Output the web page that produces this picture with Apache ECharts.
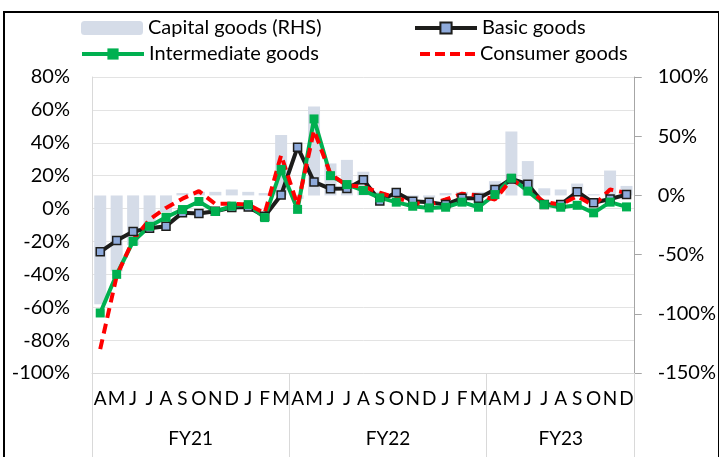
<!doctype html>
<html lang="en">
<head>
    <meta charset="UTF-8">
    <title>Production growth by use-based category</title>
    <script src="https://cdn.jsdelivr.net/npm/echarts@6/dist/echarts.min.js"></script>
    <style>
        body{ margin:0; background:#fff; }
        #main{ position:absolute; left:0; top:0; width:719px; height:457px; }
        #frame{ position:absolute; left:3px; top:11px; width:713px; height:470px; border:2px solid #000; pointer-events:none; }
    </style>
</head>
<body>
<div id="main"></div>
<div id="frame"></div>
<script>
    // months Apr FY21 .. Dec FY23
    var months = ['A','M','J','J','A','S','O','N','D','J','F','M',
                  'A','M','J','J','A','S','O','N','D','J','F','M',
                  'A','M','J','J','A','S','O','N','D'];
    var fyLabels = ['FY21', 'FY22', 'FY23'];
    var fyEdges = [0, 12, 24, 33];
    var fyCenters = [6, 18, 28.5];

    // y-o-y growth, %
    var capitalGoods = [-92,-64,-42,-25,-14,2,3,3,5,3,2,51,
                        -3,75,27,30,20,3,2,-2,-2,2,3,3,
                        12,54,29,6,5,10,1,21,8];
    var basicGoods = [-26.3,-19.5,-14,-12,-10.7,-2.5,-3,-1.6,0.6,1,-4.7,8.3,
                      37.3,16.2,12,12.2,17.5,4.6,9.8,4.5,3.8,2.4,6.3,6.2,
                      11.6,18,14.8,2.4,2.4,10.2,3.5,5.8,8.5];
    var intermediateGoods = [-63.5,-40,-20,-10.8,-5.3,-0.6,4.3,-1.8,1.5,2.4,-5.5,23.8,
                             -0.5,54.5,20,14.6,11,6.5,3.9,1.4,0.4,0.8,3.9,0.8,
                             8.5,18.5,10.6,2.4,0.8,2,-2.6,3.9,1];
    var consumerGoods = [-85.5,-41,-19,-6.7,0.4,6,10.6,2.8,3,2.4,-2.8,32.5,
                         2,47.5,21,14,13.4,9.6,6.5,3.5,2.4,5.5,9,7.9,
                         5.5,17.7,11.6,3.9,2.4,7.5,1.8,11.6,9.5];

    var font = 'Lato';
    var myChart = echarts.init(document.getElementById('main'));

    function legendAt(item, left, top, w, h, lineWidth) {
        return {
            data: [item], left: left, top: top, padding: 0, itemWidth: w, itemHeight: h,
            lineStyle: { width: lineWidth },
            textStyle: { fontSize: 20, color: '#000', fontFamily: font }
        };
    }
    // dashed legend swatch for the consumer goods line
    var dashIcon = 'path://M0,0h10v4h-10z M15,0h10v4h-10z M30,0h10v4h-10z M45,0h10v4h-10z';

    var option = {
        animation: false,
        textStyle: { fontFamily: font },
        legend: [
            legendAt('Capital goods (RHS)', 81, 18, 62, 14, 0),
            legendAt('Basic goods', 413, 18, 62, 14, 4),
            legendAt('Intermediate goods', 80, 44, 62, 14, 4),
            legendAt({ name: 'Consumer goods', icon: dashIcon }, 420, 44, 55, 4, 4)
        ],
        grid: { left: 92, right: 82, top: 77, bottom: 84 },
        xAxis: [
            {
                type: 'category',
                data: months,
                axisLine: { onZero: false, lineStyle: { color: '#d9d9d9', width: 1 } },
                axisTick: { interval: 0, length: 46, lineStyle: { color: '#d9d9d9' } },
                axisLabel: { interval: 0, margin: 16, fontSize: 19, color: '#000', fontFamily: font }
            },
            {
                type: 'value',
                min: 0,
                max: 33,
                position: 'bottom',
                axisLine: { show: false, onZero: false },
                splitLine: { show: false },
                axisTick: { show: true, customValues: fyEdges, length: 84, lineStyle: { color: '#d9d9d9' } },
                axisLabel: {
                    customValues: fyCenters, margin: 56, fontSize: 19, color: '#000', fontFamily: font,
                    formatter: function (v) { return fyLabels[fyCenters.indexOf(v)]; }
                }
            }
        ],
        yAxis: [
            {
                type: 'value',
                min: -100,
                max: 80,
                interval: 20,
                axisLine: { show: true, onZero: false, lineStyle: { color: '#d9d9d9' } },
                axisTick: { show: false },
                splitLine: { lineStyle: { color: '#e3e3e3' } },
                axisLabel: { formatter: '{value}%', margin: 22, fontSize: 20, color: '#000', fontFamily: font }
            },
            {
                type: 'value',
                min: -150,
                max: 100,
                interval: 50,
                position: 'right',
                axisLine: { show: true, onZero: false, lineStyle: { color: '#a6a6a6' } },
                axisTick: { show: true, length: 7, lineStyle: { color: '#a6a6a6' } },
                splitLine: { show: false },
                axisLabel: { formatter: '{value}%', margin: 23, fontSize: 20, color: '#000', fontFamily: font }
            }
        ],
        series: [
            {
                name: 'Capital goods (RHS)',
                type: 'bar',
                yAxisIndex: 1,
                barWidth: 12,
                itemStyle: { color: '#d5dce8' },
                data: capitalGoods
            },
            {
                name: 'Basic goods',
                type: 'line',
                symbol: 'rect',
                symbolSize: 8,
                lineStyle: { color: '#1d1d1b', width: 4 },
                itemStyle: { color: '#8eaadb', borderColor: '#1d1d1b', borderWidth: 1.5 },
                data: basicGoods
            },
            {
                name: 'Intermediate goods',
                type: 'line',
                symbol: 'rect',
                symbolSize: 9,
                lineStyle: { color: '#00b050', width: 4 },
                itemStyle: { color: '#00b050' },
                data: intermediateGoods
            },
            {
                name: 'Consumer goods',
                type: 'line',
                symbol: 'none',
                lineStyle: { color: '#ff0000', width: 4, type: [10, 6] },
                itemStyle: { color: '#ff0000' },
                data: consumerGoods
            }
        ]
    };
    myChart.setOption(option);
</script>
</body>
</html>
